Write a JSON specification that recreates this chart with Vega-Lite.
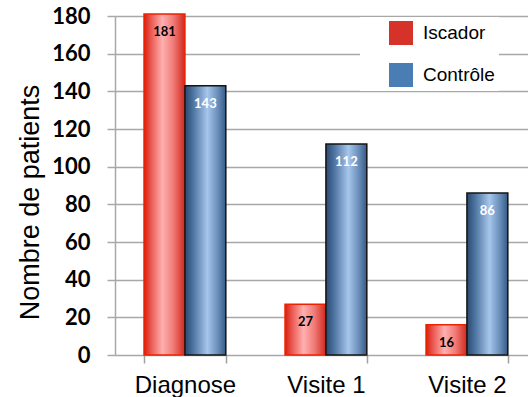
{
  "$schema": "https://vega.github.io/schema/vega-lite/v6.json",
  "width": 413,
  "height": 339,
  "autosize": {"type": "none"},
  "padding": {"left": 115, "top": 16, "right": 0, "bottom": 42},
  "background": "white",
  "config": {"view": {"stroke": null}},
  "data": {"values": [
    {"cat": "Diagnose", "series": "Iscador", "value": 181},
    {"cat": "Diagnose", "series": "Contrôle", "value": 143},
    {"cat": "Visite 1", "series": "Iscador", "value": 27},
    {"cat": "Visite 1", "series": "Contrôle", "value": 112},
    {"cat": "Visite 2", "series": "Iscador", "value": 16},
    {"cat": "Visite 2", "series": "Contrôle", "value": 86}
  ]},
  "encoding": {
    "x": {
      "field": "cat", "type": "nominal", "sort": ["Diagnose", "Visite 1", "Visite 2"],
      "scale": {"paddingInner": 0.42, "paddingOuter": 0.1745, "align": 0.59},
      "axis": {"title": null, "labelAngle": 0, "domain": false, "tickBand": "extent", "tickSize": 8, "tickColor": "#a0a0a0", "tickWidth": 1.5,
        "labelFont": "Liberation Sans", "labelFontSize": 24, "labelColor": "#000", "labelPadding": 10}
    },
    "xOffset": {"field": "series", "type": "nominal", "sort": ["Iscador", "Contrôle"], "scale": {"paddingInner": 0, "paddingOuter": 0}},
    "y": {
      "field": "value", "type": "quantitative",
      "scale": {"domain": [0, 180], "nice": false},
      "axis": {"title": "Nombre de patients", "values": [0, 20, 40, 60, 80, 100, 120, 140, 160, 180],
        "grid": true, "gridColor": "#a8a8a8", "gridWidth": 1.5,
        "domainColor": "#a8a8a8", "domainWidth": 1.5, "tickColor": "#a8a8a8", "tickWidth": 1.5, "tickSize": 8,
        "labelFont": "Lato", "labelFontWeight": "bold", "labelFontSize": 22, "labelColor": "#000", "labelPadding": 17,
        "titleFont": "Liberation Sans", "titleFontSize": 27, "titleFontWeight": "normal", "titleColor": "#000",
        "titleX": -71, "titleY": 186}
    }
  },
  "layer": [
    {
      "mark": {"type": "bar"},
      "encoding": {
        "color": {"field": "series", "type": "nominal", "sort": ["Iscador", "Contrôle"],
          "scale": {"range": ["#d5322a", "#4b7db5"]},
          "legend": {"title": null, "orient": "none", "legendX": 245, "legendY": 1, "padding": 4, "fillColor": "white",
            "symbolType": "square", "symbolSize": 576, "symbolStrokeWidth": 0, "symbolOffset": 25,
            "labelFont": "Liberation Sans", "labelFontSize": 19, "labelColor": "#000", "labelOffset": 10, "rowPadding": 18,
            "labelExpr": "datum.label + '\u00a0\u00a0\u00a0\u00a0\u00a0\u00a0\u00a0\u00a0\u00a0\u00a0\u00a0'"}
        }
      }
    },
    {
      "transform": [{"filter": "datum.series === 'Iscador'"}],
      "mark": {"type": "bar", "stroke": "#ee2200", "strokeWidth": 1.5,
        "fill": {"gradient": "linear", "x1": 0, "y1": 0, "x2": 1, "y2": 0, "stops": [
          {"offset": 0, "color": "#d81e0c"},
          {"offset": 0.15, "color": "#e8524a"},
          {"offset": 0.45, "color": "#ffb0b0"},
          {"offset": 0.72, "color": "#f07a76"},
          {"offset": 1, "color": "#d0281c"}
        ]}}
    },
    {
      "transform": [{"filter": "datum.series === 'Contrôle'"}],
      "mark": {"type": "bar", "stroke": "#141414", "strokeWidth": 1.5,
        "fill": {"gradient": "linear", "x1": 0, "y1": 0, "x2": 1, "y2": 0, "stops": [
          {"offset": 0, "color": "#2a4a70"},
          {"offset": 0.2, "color": "#4d73a0"},
          {"offset": 0.55, "color": "#a6c6ec"},
          {"offset": 0.8, "color": "#6a8fba"},
          {"offset": 1, "color": "#355a85"}
        ]}}
    },
    {
      "mark": {"type": "text", "baseline": "middle", "dy": 18, "font": "Lato", "fontWeight": "bold", "fontSize": 13},
      "encoding": {
        "text": {"field": "value", "type": "quantitative"},
        "color": {"condition": {"test": "datum.series === 'Iscador'", "value": "#000"}, "value": "#fff"}
      }
    }
  ]
}
